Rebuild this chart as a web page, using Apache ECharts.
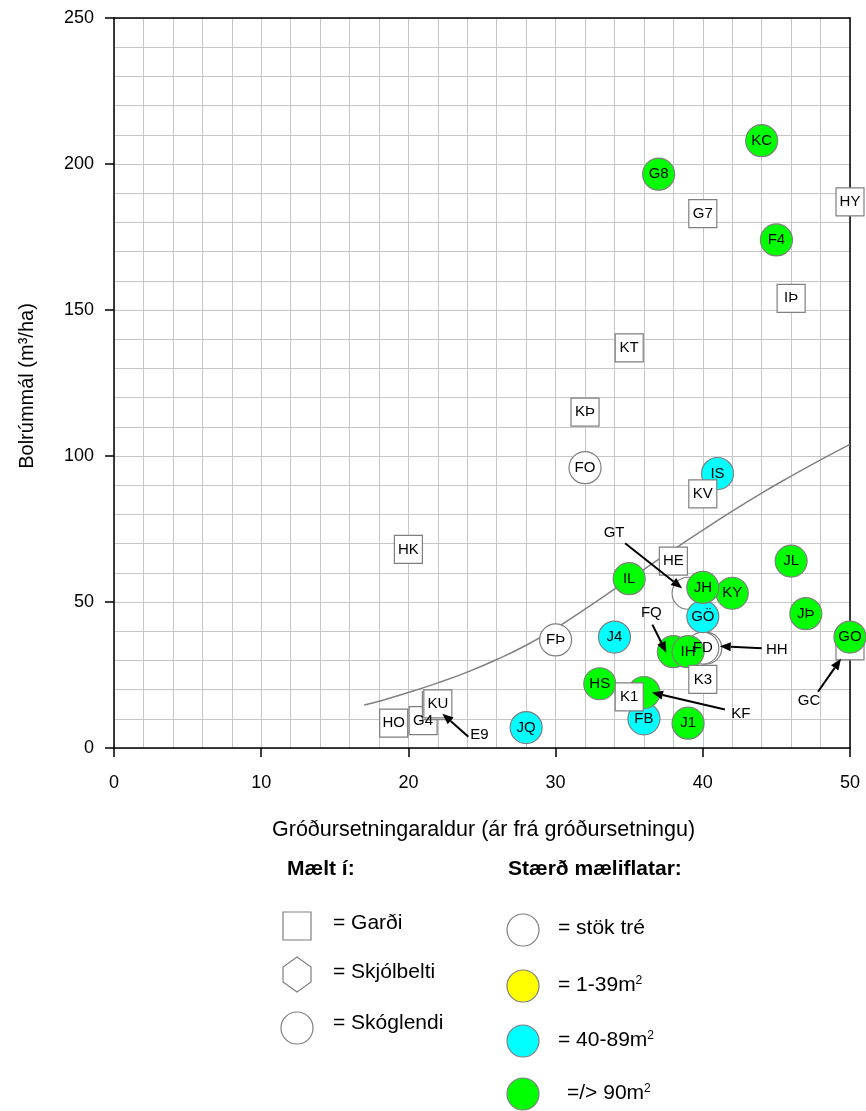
<!DOCTYPE html>
<html>
<head>
<meta charset="utf-8">
<script src="https://cdn.jsdelivr.net/npm/echarts@6/dist/echarts.min.js"></script>
<style>
  html, body { margin: 0; padding: 0; background: #fff; }
  #chart { width: 866px; height: 1111px; }
</style>
</head>
<body>
<div id="chart"></div>
<script>
// reitir, í teikniröð (aftast fyrst)
const pointNames = ['HO', 'G4', 'E9', 'KU', 'HK', 'JQ', 'FÞ', 'FO', 'KÞ', 'KT',
  'IL', 'J4', 'HS', 'FB', 'KF', 'K1', 'J1', 'FQ', 'HH', 'FD',
  'IH', 'K3', 'GT', 'GÖ', 'KY', 'JH', 'HE', 'IS', 'KV', 'JL',
  'JÞ', 'GC', 'GO', 'G8', 'G7', 'KC', 'F4', 'IÞ', 'HY'];
const plantAge = [19, 21, 21.9, 22, 20, 28, 30, 32, 32, 35,
  35, 34, 33, 36, 36, 35, 39, 38, 40.2, 40,
  39, 40, 39, 40, 42, 40, 38, 41, 40, 46,
  47, 50, 50, 37, 40, 44, 45, 46, 50];
const stemVolume = [8.5, 9.4, 14.5, 15.1, 68, 7, 37, 96, 115, 137,
  58, 38, 22, 10, 19, 17.5, 8.5, 33, 34.2, 34.2,
  33, 23.5, 53, 45, 53, 55, 64, 94, 87, 64,
  46, 35, 38, 196.5, 183, 208, 174, 154, 187];
// g = Garði, s = Skjólbelti, k = Skóglendi
const siteType = ['g', 'g', 'g', 'g', 'g', 'k', 'k', 'k', 'g', 'g',
  'k', 'k', 'k', 'k', 'k', 'g', 'k', 'k', 'k', 'k',
  'k', 'g', 'k', 'k', 'k', 'k', 'g', 'k', 'g', 'k',
  'k', 'g', 'k', 'k', 'g', 'k', 'k', 'g', 'g'];
// stærð mæliflatar
const plotSize = ['stok', 'stok', 'stok', 'stok', 'stok', '40-89', 'stok', 'stok', 'stok', 'stok',
  '90', '40-89', '90', '40-89', '90', 'stok', '90', '90', 'stok', 'stok',
  '90', 'stok', 'stok', '40-89', '90', '90', 'stok', '40-89', 'stok', '90',
  '90', 'stok', '90', '90', 'stok', '90', '90', 'stok', 'stok'];

// ferill lesinn af myndinni
const curveAge = [17, 18, 20, 22, 24, 26, 28, 30, 32, 34, 36, 38, 40, 42, 44, 46, 48, 50];
const curveVolume = [14.7, 16, 19, 22.3, 26, 30.3, 35.2, 41, 47.6, 54.4, 61.2, 67.9, 74.6, 81.1, 87.3, 93.1, 98.7, 104];

// reitir með merki og ör utan við táknið
const calloutNames = ['GT', 'FQ', 'HH', 'KF', 'GC', 'E9'];

const xMax = 50, xStep = 10;
const yMax = 250, yStep = 50;

const FONT = '"Liberation Sans", Arial, sans-serif';
const fills = { 'stok': '#ffffff', '1-39': '#ffff00', '40-89': '#00ffff', '90': '#00ff00' };
const hexPath = 'path://M0,-10L8.66,-5L8.66,5L0,10L-8.66,5L-8.66,-5Z';
const shapes = { g: 'rect', s: hexPath, k: 'circle' };
const sizes = { g: 28, s: [28, 34], k: 32 };

// staðsetning merkja við örvar (px frá miðju tákns)
const calloutLayout = {
  GT: { label: [-74, -60], from: [-63, -50], to: [-6, -5] },
  FQ: { label: [-22, -39], from: [-21, -27], to: [-7, 1] },
  HH: { label: [71, 2], from: [56, 0], to: [14, -2] },
  KF: { label: [97, 21], from: [81, 17], to: [8, 0] },
  GC: { label: [-41, 55], from: [-32, 46], to: [-9, 13] },
  E9: { label: [43, 29], from: [32, 31], to: [6, 8] }
};

const points = pointNames.map((n, i) => ({
  name: n,
  value: [plantAge[i], stemVolume[i]],
  symbol: shapes[siteType[i]],
  symbolSize: sizes[siteType[i]],
  itemStyle: { color: fills[plotSize[i]], borderColor: '#7f7f7f', borderWidth: 1.2, opacity: 1 },
  label: { show: calloutNames.indexOf(n) < 0 }
}));

const gridLine = { color: '#c6c6c6', width: 1 };

const chart = echarts.init(document.getElementById('chart'));

function txt(x, y, text, extra) {
  return {
    type: 'text', x: x, y: y, silent: true,
    style: Object.assign({
      text: text, fill: '#000', fontSize: 21, fontFamily: FONT, verticalAlign: 'middle',
      rich: { s: { fontSize: 12, fontFamily: FONT, verticalAlign: 'top', lineHeight: 21 } }
    }, extra || {})
  };
}

function legendGraphics() {
  const stroke = { stroke: '#7f7f7f', lineWidth: 1.2 };
  const circ = (cx, cy, fill) => ({ type: 'circle', shape: { cx: cx, cy: cy, r: 16 }, style: Object.assign({ fill: fill }, stroke), silent: true });
  return [
    txt(287, 869, 'Mælt í:', { fontWeight: 'bold' }),
    txt(508, 869, 'Stærð mæliflatar:', { fontWeight: 'bold' }),
    { type: 'rect', shape: { x: 283, y: 912, width: 28, height: 28 }, style: Object.assign({ fill: '#fff' }, stroke), silent: true },
    txt(333, 923, '= Garði'),
    { type: 'polygon', shape: { points: [[297, 957], [311, 967], [311, 982], [297, 992], [283, 982], [283, 967]] }, style: Object.assign({ fill: '#fff' }, stroke), silent: true },
    txt(333, 972, '= Skjólbelti'),
    circ(297, 1028, '#fff'),
    txt(333, 1023, '= Skóglendi'),
    circ(523, 930, fills['stok']),
    txt(558, 928, '= stök tré'),
    circ(523, 986, fills['1-39']),
    txt(558, 985, '= 1-39m{s|2}'),
    circ(523, 1041, fills['40-89']),
    txt(558, 1040, '= 40-89m{s|2}'),
    circ(523, 1094, fills['90']),
    txt(567, 1093, '=/> 90m{s|2}')
  ];
}

chart.setOption({
  animation: false,
  backgroundColor: '#fff',
  textStyle: { fontFamily: FONT },
  grid: { left: 114, right: 16, top: 18, bottom: 363 },
  xAxis: [{
    type: 'value', min: 0, max: xMax, interval: xStep,
    axisLine: { onZero: false, lineStyle: { color: '#000', width: 1.5 } },
    axisTick: { length: 9, lineStyle: { color: '#000', width: 1.5 } },
    axisLabel: { fontSize: 18, color: '#000', margin: 26 },
    splitLine: { show: true, lineStyle: gridLine },
    minorTick: { show: false, splitNumber: 5 },
    minorSplitLine: { show: true, lineStyle: gridLine }
  }, {
    type: 'value', position: 'top', min: 0, max: xMax,
    axisLine: { show: true, onZero: false, lineStyle: { color: '#000', width: 1.5 } },
    axisTick: { show: false }, axisLabel: { show: false }, splitLine: { show: false }
  }],
  yAxis: [{
    type: 'value', min: 0, max: yMax, interval: yStep,
    axisLine: { show: true, onZero: false, lineStyle: { color: '#000', width: 1.5 } },
    axisTick: { show: true, length: 9, lineStyle: { color: '#000', width: 1.5 } },
    axisLabel: { fontSize: 18, color: '#000', margin: 20 },
    splitLine: { show: true, lineStyle: gridLine },
    minorTick: { show: false, splitNumber: 5 },
    minorSplitLine: { show: true, lineStyle: gridLine }
  }, {
    type: 'value', position: 'right', min: 0, max: yMax,
    axisLine: { show: true, onZero: false, lineStyle: { color: '#000', width: 1.5 } },
    axisTick: { show: false }, axisLabel: { show: false }, splitLine: { show: false }
  }],
  series: [{
    type: 'line',
    z: 1,
    data: curveAge.map((a, i) => [a, curveVolume[i]]),
    smooth: true,
    showSymbol: false,
    lineStyle: { color: '#808080', width: 1.5 },
    silent: true
  }, {
    type: 'scatter',
    z: 2,
    data: points,
    label: { position: 'inside', formatter: '{b}', color: '#000', fontSize: 15, fontFamily: FONT },
    emphasis: { disabled: true },
    silent: true
  }],
  graphic: [
    txt(272, 830, 'Gróðursetningaraldur (ár frá gróðursetningu)', { fontSize: 21.5 }),
    txt(27, 386, 'Bolrúmmál (m³/ha)', { fontSize: 20, align: 'center' })
  ].concat(legendGraphics())
});

// merki og örvar fyrir reiti sem eru faldir bak við aðra
const g = chart.getOption().graphic[0].elements;
const extra = [];
calloutNames.forEach(n => {
  const i = pointNames.indexOf(n);
  const p = chart.convertToPixel({ seriesIndex: 1 }, [plantAge[i], stemVolume[i]]);
  const c = calloutLayout[n];
  const fx = p[0] + c.from[0], fy = p[1] + c.from[1];
  const tx = p[0] + c.to[0], ty = p[1] + c.to[1];
  const ang = Math.atan2(ty - fy, tx - fx);
  const len = 11, half = 4.5;
  const bx = tx - len * Math.cos(ang), by = ty - len * Math.sin(ang);
  extra.push({
    type: 'line', silent: true, z: 10,
    shape: { x1: fx, y1: fy, x2: bx, y2: by },
    style: { stroke: '#000', lineWidth: 2 }
  });
  extra.push({
    type: 'polygon', silent: true, z: 10,
    shape: { points: [[tx, ty],
      [bx + half * Math.sin(ang), by - half * Math.cos(ang)],
      [bx - half * Math.sin(ang), by + half * Math.cos(ang)]] },
    style: { fill: '#000' }
  });
  extra.push({
    type: 'text', silent: true, z: 10,
    x: p[0] + c.label[0], y: p[1] + c.label[1],
    style: { text: n, fill: '#000', fontSize: 15, fontFamily: FONT, align: 'center', verticalAlign: 'middle' }
  });
});
// y-ás titill snúinn
chart.setOption({ graphic: g.map((e, k) => (k === 1 ? { rotation: Math.PI / 2 } : {})).concat(extra) });
</script>
</body>
</html>
